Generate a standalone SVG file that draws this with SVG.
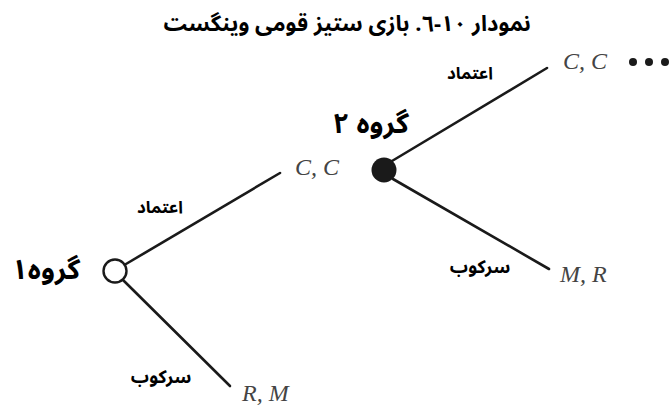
<svg xmlns="http://www.w3.org/2000/svg" width="671" height="405" viewBox="0 0 671 405">
<style>
.fa{font-family:"Noto Sans Arabic","DejaVu Sans",sans-serif;font-weight:bold;fill:#000;direction:rtl;unicode-bidi:embed}
.t{font-size:22px}
.g{font-size:28px}
.e{font-size:17px}
.s{font-size:18px}
.p{font-family:"Liberation Serif",serif;font-style:italic;font-size:24px;fill:#444}
.ln{stroke:#1a1a1a;stroke-width:2.6;fill:none;stroke-linecap:round}
</style>
<rect width="671" height="405" fill="#fff"/>
<text class="fa t" x="347" y="31" text-anchor="middle">نمودار ١٠-٦. بازی ستیز قومی وینگست</text>
<g id="connectors">
<line class="ln" x1="126" y1="264" x2="280" y2="173"/>
<line class="ln" x1="123" y1="280" x2="230" y2="386"/>
<line class="ln" x1="392" y1="161" x2="547" y2="68"/>
<line class="ln" x1="393" y1="179" x2="549" y2="269"/>
</g>
<g id="n1">
<circle cx="115" cy="271" r="11.5" fill="#fff" stroke="#1a1a1a" stroke-width="2.4"/>
<text class="fa g" x="46" y="279" text-anchor="middle">گروه۱</text>
</g>
<g id="n2">
<circle cx="384" cy="170" r="12.5" fill="#1a1a1a"/>
<text class="fa g" x="371" y="133" text-anchor="middle">گروه ۲</text>
</g>
<g id="labels">
<text class="fa e" x="160" y="213" text-anchor="middle">اعتماد</text>
<text class="fa s" x="161" y="383" text-anchor="middle">سرکوب</text>
<text class="fa e" x="470" y="79" text-anchor="middle">اعتماد</text>
<text class="fa s" x="480" y="273" text-anchor="middle">سرکوب</text>
</g>
<g id="payoffs">
<text class="p" x="295" y="175">C, C</text>
<text class="p" x="563" y="69">C, C</text>
<text class="p" x="560" y="282">M, R</text>
<text class="p" x="242" y="401">R, M</text>
<circle cx="633" cy="62" r="4" fill="#1a1a1a"/>
<circle cx="649" cy="62" r="4" fill="#1a1a1a"/>
<circle cx="665" cy="62" r="4" fill="#1a1a1a"/>
</g>
</svg>
